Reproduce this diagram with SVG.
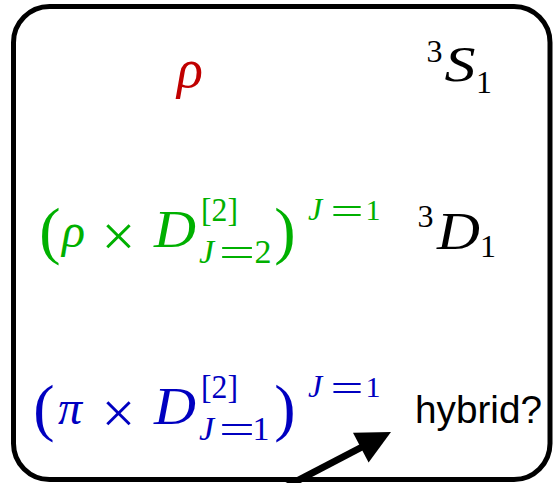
<svg xmlns="http://www.w3.org/2000/svg" width="558" height="483" viewBox="0 0 558 483">
<style>
.it{font-family:"Liberation Serif",serif;font-style:italic}
.rm{font-family:"Liberation Serif",serif}
.par{font-family:"Liberation Serif",serif;font-size:64px}
.red{fill:#c00000}
.grn{fill:#00b000}
.blu{fill:#0000c0}
.blk{fill:#000}
text{text-anchor:middle}
</style>
<g id="frame">
<rect x="13.5" y="6.5" width="536.5" height="473" rx="36" ry="36" fill="#fff" stroke="#000" stroke-width="5"/>
</g>
<g id="rho" class="red">
<text class="it" x="190" y="87" font-size="54">ρ</text>
</g>
<g id="S1" class="blk">
<text class="rm" x="434.5" y="62" font-size="32">3</text>
<text class="it" x="460" y="81" font-size="50" textLength="31" lengthAdjust="spacingAndGlyphs">S</text>
<text class="rm" x="484" y="93" font-size="32">1</text>
</g>
<g id="green" class="grn">
<text class="par" x="50" y="252">(</text>
<text class="it" x="73.5" y="247" font-size="48">ρ</text>
<text class="rm" x="118.5" y="256" font-size="60">×</text>
<text class="it" x="175" y="247" font-size="52" textLength="42" lengthAdjust="spacingAndGlyphs">D</text>
<text class="rm" x="219.5" y="221" font-size="34" textLength="37" lengthAdjust="spacingAndGlyphs">[2]</text>
<text class="it" x="206.5" y="263" font-size="34">J</text>
<text class="rm" x="237" y="266" font-size="42" textLength="36" lengthAdjust="spacingAndGlyphs">=</text>
<text class="rm" x="263" y="263" font-size="34">2</text>
<text class="par" x="285" y="252">)</text>
<text class="it" x="315" y="220" font-size="32">J</text>
<text class="rm" x="347" y="225" font-size="40" textLength="33" lengthAdjust="spacingAndGlyphs">=</text>
<text class="rm" x="373" y="220" font-size="30">1</text>
</g>
<g id="D1" class="blk">
<text class="rm" x="425.5" y="227" font-size="32">3</text>
<text class="it" x="458.5" y="249" font-size="52" textLength="43" lengthAdjust="spacingAndGlyphs">D</text>
<text class="rm" x="488" y="257" font-size="32">1</text>
</g>
<g id="blue" class="blu">
<text class="par" x="44" y="429">(</text>
<text class="it" x="70" y="424" font-size="48">π</text>
<text class="rm" x="118.5" y="433" font-size="60">×</text>
<text class="it" x="175" y="424" font-size="52" textLength="42" lengthAdjust="spacingAndGlyphs">D</text>
<text class="rm" x="219.5" y="398" font-size="34" textLength="37" lengthAdjust="spacingAndGlyphs">[2]</text>
<text class="it" x="206.5" y="440" font-size="34">J</text>
<text class="rm" x="237" y="443" font-size="42" textLength="36" lengthAdjust="spacingAndGlyphs">=</text>
<text class="rm" x="261" y="440" font-size="34">1</text>
<text class="par" x="285" y="429">)</text>
<text class="it" x="315" y="397" font-size="32">J</text>
<text class="rm" x="347" y="402" font-size="40" textLength="33" lengthAdjust="spacingAndGlyphs">=</text>
<text class="rm" x="373" y="397" font-size="30">1</text>
</g>
<g id="hybrid" class="blk">
<text x="478.5" y="423" font-family="Liberation Sans, sans-serif" font-size="38" textLength="127" lengthAdjust="spacingAndGlyphs">hybrid?</text>
</g>
<g id="connectors">
<line x1="270" y1="495" x2="362" y2="447" stroke="#000" stroke-width="7"/>
<polygon points="391,432 353,432.8 368.6,462.6" fill="#000"/>
</g>
</svg>
